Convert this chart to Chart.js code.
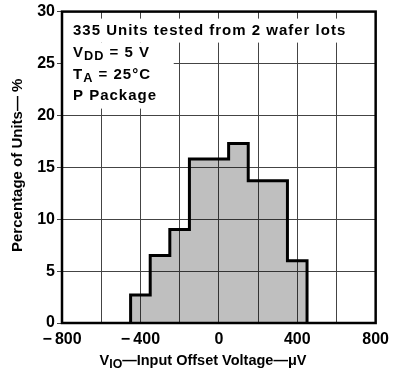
<!DOCTYPE html>
<html><head><meta charset="utf-8">
<script src="https://cdn.jsdelivr.net/npm/chart.js@4"></script>
<style>html,body{margin:0;padding:0;background:#fff;}#wrap{width:396px;height:373px;position:relative}</style>
</head><body><div id="wrap"><canvas id="c" width="396" height="373"></canvas></div>
<script>
// ---- data ----
const binEdges = [-450, -350, -250, -150, -50, 50, 150, 250, 350, 450];   // µV
const percentUnits = [2.7, 6.5, 9.0, 15.8, 15.8, 17.3, 13.7, 13.7, 6.0];  // % of units per bin
const xTickLabels = [-800, -400, 0, 400, 800];
const yTickLabels = [0, 5, 10, 15, 20, 25, 30];
const noteLine1 = [{t: '335 Units tested from 2 wafer lots'}];
const noteLine2 = [{t: 'V'}, {t: 'DD', sub: true}, {t: ' = 5 V'}];
const noteLine3 = [{t: 'T'}, {t: 'A', sub: true}, {t: ' = 25\u00B0C'}];
const noteLine4 = [{t: 'P Package'}];
const xTitle = [{t: 'V'}, {t: 'IO', sub: true}, {t: '\u2014Input Offset Voltage\u2014\u03BCV'}];
const yTitle = 'Percentage of Units\u2014 %';

// build stepped outline points from bin edges + values
const points = [{x: binEdges[0], y: 0}];
percentUnits.forEach((v, i) => points.push({x: binEdges[i], y: v}));
points.push({x: binEdges[binEdges.length - 1], y: 0});

const FONT = '"Liberation Sans", Arial, sans-serif';

function drawRich(ctx, segs, x, y, size, align, spacing) {
  if ('letterSpacing' in ctx) ctx.letterSpacing = (spacing || 0) + 'px';
  let total = 0;
  const widths = segs.map(s => {
    ctx.font = 'bold ' + (s.sub ? size * 0.85 : size) + 'px ' + FONT;
    const w = ctx.measureText(s.t).width;
    total += w; return w;
  });
  let cx = align === 'center' ? x - total / 2 : x;
  segs.forEach((s, i) => {
    ctx.font = 'bold ' + (s.sub ? size * 0.85 : size) + 'px ' + FONT;
    ctx.fillText(s.t, cx, y + (s.sub ? 3 : 0));
    cx += widths[i];
  });
  if ('letterSpacing' in ctx) ctx.letterSpacing = '0px';
}

const decor = {
  id: 'decor',
  beforeDatasetsDraw(chart) {
    const {ctx, chartArea: a, scales} = chart;
    ctx.save();
    ctx.fillStyle = '#fff';
    ctx.fillRect(a.left + 1, a.top + 7, a.right - a.left - 2, 24);
    ctx.fillRect(a.left + 1, a.top + 31, scales.x.getPixelForValue(-230) - a.left - 1, 66);
    ctx.restore();
  },
  afterDraw(chart) {
    const {ctx, chartArea: a} = chart;
    ctx.save();
    ctx.strokeStyle = '#000';
    ctx.lineWidth = 2.5;
    ctx.strokeRect(a.left, a.top, a.right - a.left, a.bottom - a.top);
    ctx.fillStyle = '#000';
    ctx.textBaseline = 'alphabetic';
    ctx.textAlign = 'left';
    const lx = a.left + 11;
    drawRich(ctx, noteLine1, lx, a.top + 23, 15, 'left', 1);
    drawRich(ctx, noteLine2, lx, a.top + 45, 15, 'left', 1);
    drawRich(ctx, noteLine3, lx, a.top + 67, 15, 'left', 1);
    drawRich(ctx, noteLine4, lx, a.top + 88, 15, 'left', 1);
    drawRich(ctx, xTitle, 203, 365, 14.5, 'center', 0);
    ctx.translate(18, (a.top + a.bottom) / 2 - 2);
    ctx.rotate(-Math.PI / 2);
    ctx.textAlign = 'center';
    ctx.textBaseline = 'middle';
    ctx.font = 'bold 15px ' + FONT;
    ctx.fillText(yTitle, 0, 0);
    ctx.restore();
  }
};

new Chart(document.getElementById('c'), {
  type: 'line',
  data: {
    datasets: [{
      data: points,
      stepped: true,
      borderColor: '#000',
      borderWidth: 3,
      backgroundColor: 'rgba(0,0,0,0.25)',
      fill: 'origin',
      pointRadius: 0,
      tension: 0
    }]
  },
  options: {
    responsive: false,
    animation: false,
    layout: {padding: {left: 0, right: 19, top: 11, bottom: 0}},
    plugins: {legend: {display: false}, tooltip: {enabled: false}},
    scales: {
      x: {
        type: 'linear', min: -800, max: 800,
        border: {display: false},
        grid: {color: '#444', lineWidth: 1, drawTicks: false},
        ticks: {
          stepSize: 200, padding: 7, color: '#000', maxRotation: 0, autoSkip: false,
          font: {family: FONT, size: 16, weight: 'bold'},
          callback: v => xTickLabels.includes(v) ? (v < 0 ? '\u2212\u2009' + Math.abs(v) : String(v)) : ''
        },
        afterFit: s => { s.height = 50; }
      },
      y: {
        min: 0, max: 30,
        border: {display: false},
        grid: {color: '#444', lineWidth: 1, tickLength: 5},
        ticks: {
          stepSize: 5, padding: 2, color: '#000',
          font: {family: FONT, size: 16, weight: 'bold'},
          callback: v => yTickLabels.includes(v) ? String(v) : ''
        },
        afterFit: s => { s.width = 62; }
      }
    }
  },
  plugins: [decor]
});
</script>
</body></html>
